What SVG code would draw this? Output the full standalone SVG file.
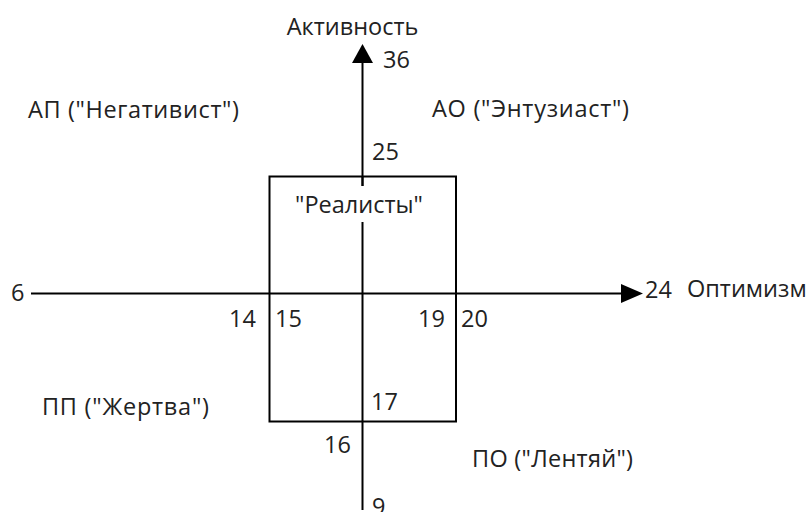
<svg xmlns="http://www.w3.org/2000/svg" width="811" height="512" viewBox="0 0 811 512">
<style>
text{font-family:"Open Sans","Liberation Sans",sans-serif;font-size:23.5px;fill:#222}
.ln{stroke:#000;stroke-width:2;fill:none}
</style>
<rect width="811" height="512" fill="#fff"/>
<g id="connectors">
<line class="ln" x1="31" y1="293.5" x2="630" y2="293.5"/>
<path d="M621,284 L643,293.5 L621,303 Z" fill="#000"/>
<line class="ln" x1="362.5" y1="510" x2="362.5" y2="222"/>
<line class="ln" x1="362.5" y1="186" x2="362.5" y2="62"/>
<path d="M352,63 L362.5,44 L373,63 Z" fill="#000"/>
</g>
<g id="realists">
<rect class="ln" x="269.5" y="176.5" width="186.5" height="245"/>
<line class="ln" x1="362.5" y1="176" x2="362.5" y2="186"/>
<text x="359" y="213" text-anchor="middle">"Реалисты"</text>
</g>
<g id="axis-labels">
<text x="352.5" y="35" text-anchor="middle">Активность</text>
<text x="383" y="68">36</text>
<text x="687" y="297">Оптимизм</text>
<text x="645" y="298">24</text>
<text x="11" y="301">6</text>
<text x="372" y="515">9</text>
</g>
<g id="values">
<text x="372" y="160">25</text>
<text x="229" y="327">14</text>
<text x="275" y="327">15</text>
<text x="418" y="327">19</text>
<text x="461" y="327">20</text>
<text x="371" y="410">17</text>
<text x="324" y="453">16</text>
</g>
<g id="quadrants">
<text x="28" y="118" textLength="211" lengthAdjust="spacing">АП ("Негативист")</text>
<text x="432" y="117" textLength="197" lengthAdjust="spacing">АО ("Энтузиаст")</text>
<text x="42" y="415" textLength="167" lengthAdjust="spacing">ПП ("Жертва")</text>
<text x="472" y="467" textLength="161" lengthAdjust="spacing">ПО ("Лентяй")</text>
</g>
</svg>
